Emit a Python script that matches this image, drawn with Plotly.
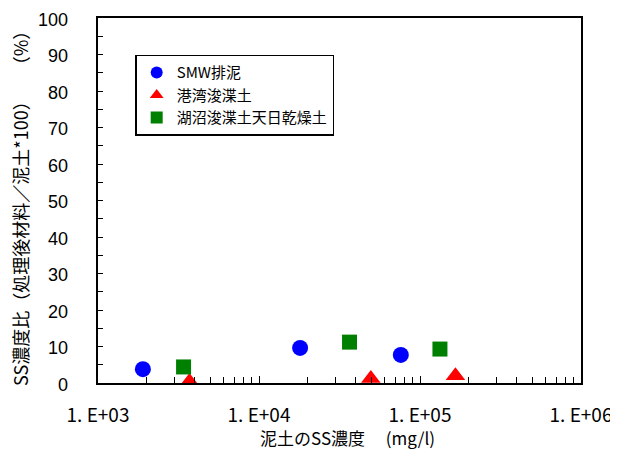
import plotly.graph_objects as go

smw_x = [1900, 18000, 76000]
smw_y = [3.8, 9.6, 7.7]
port_x = [3700, 49500, 166000]
port_y = [0.4, 1.2, 2.0]
lake_x = [3400, 36500, 133000]
lake_y = [4.4, 11.2, 9.3]

names = ["SMW排泥", "港湾浚渫土", "湖沼浚渫土天日乾燥土"]
x_tickvals = [1e3, 1e4, 1e5, 1e6]
x_ticktext = ["1. E+03", "1. E+04", "1. E+05", "1. E+06"]
y_tickvals = list(range(0, 101, 10))
x_title = "泥土のSS濃度　 (mg/l)"
y_title = "SS濃度比（処理後材料／泥土*100）　　（%）"

FONT = "Noto Sans CJK JP"

fig = go.Figure()
fig.add_trace(go.Scatter(x=smw_x, y=smw_y, mode="markers", name=names[0],
                         marker=dict(symbol="circle", size=16, color="#0000FF")))
fig.add_trace(go.Scatter(x=port_x, y=port_y, mode="markers", name=names[1],
                         marker=dict(symbol="triangle-up", size=17, color="#FF0000")))
fig.add_trace(go.Scatter(x=lake_x, y=lake_y, mode="markers", name=names[2],
                         marker=dict(symbol="square", size=15, color="#008000")))

annotations = [
    dict(text=x_title, xref="paper", yref="paper", x=0.516, y=-0.148,
         xanchor="center", yanchor="middle", showarrow=False,
         font=dict(family=FONT, size=17, color="black")),
    dict(text=y_title, xref="paper", yref="paper", x=-0.162, y=0.49,
         xanchor="center", yanchor="middle", showarrow=False, textangle=-90,
         font=dict(family=FONT, size=18, color="black")),
]
# y tick labels placed on the y scale, further from the axis as in the reference
for v in y_tickvals:
    annotations.append(dict(text=str(v), xref="paper", yref="y", x=-0.058, y=v,
                            xanchor="right", yanchor="middle", yshift=-1.5,
                            showarrow=False,
                            font=dict(family="Liberation Sans", size=18, color="black")))

fig.update_layout(
    width=610, height=444,
    margin=dict(l=90, r=37, t=10, b=69, autoexpand=False),
    paper_bgcolor="white", plot_bgcolor="white",
    font=dict(family=FONT, size=15, color="black"),
    showlegend=True,
    legend=dict(x=0.077, y=0.899, xanchor="left", yanchor="top",
                bordercolor="black", borderwidth=1.5, bgcolor="white",
                font=dict(family=FONT, size=15, color="black"),
                tracegroupgap=0, itemsizing="constant"),
    annotations=annotations,
)
fig.update_xaxes(
    type="log", range=[3, 6], automargin=False,
    tickvals=x_tickvals, ticktext=x_ticktext,
    ticks="inside", ticklen=7, tickwidth=1.2, tickcolor="black",
    ticklabelstandoff=14, ticklabeloverflow="allow",
    minor=dict(ticks="inside", ticklen=6, tickwidth=1.2, tickcolor="black",
               tickvals=[m * 10 ** e for e in range(3, 6) for m in range(2, 10)]),
    showline=True, linecolor="black", linewidth=1.5, mirror=True,
    showgrid=False, zeroline=False,
    tickfont=dict(family=FONT, size=19),
)
fig.update_yaxes(
    range=[0, 100], tickvals=y_tickvals, automargin=False,
    showticklabels=False,
    ticks="inside", ticklen=5, tickwidth=1.2, tickcolor="black",
    minor=dict(ticks="inside", ticklen=5, tickwidth=1.2, tickcolor="black", dtick=5),
    showline=True, linecolor="black", linewidth=1.5, mirror=True,
    showgrid=False, zeroline=False,
)

fig.write_html("out.html")
